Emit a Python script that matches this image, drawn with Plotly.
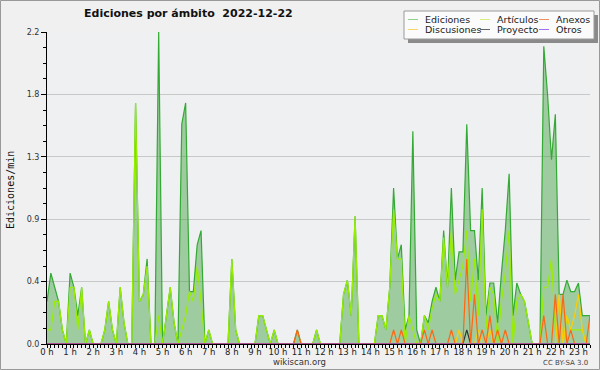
import plotly.graph_objects as go

# 10-minute bins from 00:00 to 23:30 (edits per minute)
ediciones = [
    0.3, 0.5, 0.4, 0.3, 0.1, 0, 0.5, 0.4, 0.2, 0.4, 0, 0.1,
    0, 0, 0, 0.1, 0.3, 0.1, 0, 0.4, 0.15, 0, 0, 1.7,
    0.3, 0.35, 0.6, 0, 0, 2.2, 0, 0.2, 0.4, 0.15, 0, 1.55,
    1.7, 0.37, 0.37, 0.7, 0.8, 0, 0.1, 0, 0, 0, 0, 0,
    0.6, 0.1, 0, 0, 0, 0, 0, 0.2, 0.2, 0.1, 0, 0.1,
    0, 0, 0, 0, 0, 0.1, 0, 0, 0, 0, 0.1, 0,
    0, 0, 0, 0, 0, 0.35, 0.45, 0.2, 0.9, 0, 0, 0,
    0, 0, 0.2, 0.2, 0.1, 0.4, 1.1, 0.6, 0.7, 0.1, 0.2, 1.5,
    0.1, 0, 0.2, 0.15, 0.3, 0.4, 0.3, 0.8, 0.4, 1.1, 0.45, 0.65,
    0.65, 1.55, 0.8, 0.8, 0.45, 1.1, 0.2, 0.43, 0.43, 0.15, 0.5, 0.8,
    1.2, 0.2, 0.43, 0.35, 0.3, 0.15, 0, 0, 0, 2.1, 1.75, 1.3,
    1.62, 0.35, 0.35, 0.45, 0.37, 0.37, 0.43, 0.2, 0.2, 0.2,
]
articulos = [
    0.1, 0.1, 0.3, 0.3, 0.1, 0, 0.4, 0.4, 0.1, 0.4, 0, 0.1,
    0, 0, 0, 0.1, 0.3, 0.1, 0, 0.4, 0.15, 0, 0, 1.7,
    0.3, 0.35, 0.55, 0, 0, 0.2, 0, 0.2, 0.4, 0.15, 0, 0.1,
    0.2, 0.37, 0.3, 0.55, 0.3, 0, 0.1, 0, 0, 0, 0, 0,
    0.6, 0.1, 0, 0, 0, 0, 0, 0.2, 0.2, 0.1, 0, 0.1,
    0, 0, 0, 0, 0, 0, 0, 0, 0, 0, 0.1, 0,
    0, 0, 0, 0, 0, 0.35, 0.45, 0.2, 0.9, 0, 0, 0,
    0, 0, 0.2, 0.2, 0.1, 0.4, 0.95, 0.6, 0.6, 0, 0.2, 0.1,
    0, 0, 0.2, 0.1, 0.25, 0.35, 0.3, 0.75, 0.4, 0.8, 0.35, 0.45,
    0.55, 0.8, 0.3, 0.6, 0.2, 0.95, 0.1, 0.4, 0.35, 0, 0.3, 0.5,
    0.8, 0, 0.3, 0.35, 0.3, 0.15, 0, 0, 0, 0.4, 0.4, 0.6,
    0.1, 0, 0, 0.2, 0.1, 0.1, 0.1, 0.1, 0, 0,
]
anexos = [0] * 142
for i, v in {65: 0.1, 90: 0.1, 92: 0.1, 98: 0.1, 100: 0.1, 105: 0.1,
             109: 0.6, 111: 0.35, 113: 0.1, 115: 0.2, 117: 0.1, 119: 0.1,
             129: 0.2, 132: 0.35, 134: 0.35, 136: 0.1, 141: 0.2}.items():
    anexos[i] = v
discusiones = [0] * 142
for i, v in {107: 0.1, 112: 0.1, 115: 0.1, 133: 0.35, 135: 0.2,
             136: 0.1, 137: 0.2, 138: 0.35, 139: 0.1}.items():
    discusiones[i] = v
proyecto = [0] * 142
proyecto[109] = 0.1
otros = [0] * 142

hour_labels = [f"{h} h" for h in range(24)]
y_ticks = [0, 0.44, 0.88, 1.32, 1.76, 2.2]
y_labels = ["0.0", "0.4", "0.9", "1.3", "1.8", "2.2"]

hours = [i / 6 for i in range(len(ediciones))]

series = [
    ("Ediciones", ediciones, "#33aa33", "#8fd08f"),
    ("Artículos", articulos, "#99ee00", "#d4f07a"),
    ("Discusiones", discusiones, "#ffcc00", "#f5d66a"),
    ("Proyecto", proyecto, "#333333", "#666666"),
    ("Anexos", anexos, "#ff6611", "#f09060"),
    ("Otros", otros, "#9933ff", "#a070f0"),
]

fig = go.Figure()
for name, vals, col, _ in series:
    kw = {}
    if name == "Ediciones":
        kw = dict(fill="tozeroy", fillcolor="rgba(60,160,60,0.45)")
    fig.add_trace(go.Scatter(x=hours, y=vals, mode="lines", name=name,
                             line=dict(color=col, width=1.2), showlegend=False, **kw))

L, R, T, B = 47, 590, 32, 344
W, H = 600, 370
def px(x):
    return (x - L) / (R - L)
def py(y):
    return (B - y) / (B - T)

shapes = []
annotations = []
# outer border
shapes.append(dict(type="rect", xref="paper", yref="paper", x0=px(0.5), x1=px(599.5),
                   y0=py(369.5), y1=py(0.5), line=dict(color="#999999", width=1)))
# legend shadow + box
shapes.append(dict(type="rect", xref="paper", yref="paper", x0=px(408), x1=px(598),
                   y0=py(43), y1=py(15), fillcolor="#8a8a8a", line=dict(width=0)))
shapes.append(dict(type="rect", xref="paper", yref="paper", x0=px(404), x1=px(594),
                   y0=py(39), y1=py(11), fillcolor="#fbfbfb",
                   line=dict(color="#9a9a9a", width=1)))
legend_items = [
    ("Ediciones", 408, 19.5), ("Artículos", 480, 19.5), ("Anexos", 539, 19.5),
    ("Discusiones", 408, 29.5), ("Proyecto", 480, 29.5), ("Otros", 539, 29.5),
]
legcol = {s[0]: s[3] for s in series}
for name, lx, ly in legend_items:
    shapes.append(dict(type="line", xref="paper", yref="paper", x0=px(lx), x1=px(lx + 10),
                       y0=py(ly), y1=py(ly), line=dict(color=legcol[name], width=1)))
    annotations.append(dict(text=name, xref="paper", yref="paper", x=px(lx + 15), y=py(ly),
                            xanchor="left", yanchor="middle", showarrow=False,
                            font=dict(family="DejaVu Sans", size=9.5, color="#222")))

annotations.append(dict(text="<b>Ediciones por ámbito  2022-12-22</b>", xref="paper", yref="paper",
                        x=px(188), y=py(14), xanchor="center", yanchor="middle", showarrow=False,
                        font=dict(family="DejaVu Sans", size=11, color="#111")))
annotations.append(dict(text="Ediciones/min", xref="paper", yref="paper", x=px(10), y=py(190),
                        textangle=-90, xanchor="center", yanchor="middle", showarrow=False,
                        font=dict(family="DejaVu Sans Mono", size=10, color="#111")))
annotations.append(dict(text="wikiscan.org", xref="paper", yref="paper", x=px(299), y=py(362),
                        xanchor="center", yanchor="middle", showarrow=False,
                        font=dict(family="DejaVu Sans", size=8.5, color="#333")))
annotations.append(dict(text="CC BY-SA 3.0", xref="paper", yref="paper", x=px(590), y=py(363),
                        xanchor="right", yanchor="middle", showarrow=False,
                        font=dict(family="DejaVu Sans", size=7, color="#444")))

fig.update_layout(
    width=W, height=H,
    margin=dict(l=L, r=W - R, t=T, b=H - B, pad=0),
    paper_bgcolor="#f0f0f0", plot_bgcolor="#eef0f2",
    shapes=shapes, annotations=annotations,
    font=dict(family="DejaVu Sans", size=8, color="#222"),
)
fig.update_xaxes(range=[0, 23.5], tickvals=list(range(24)), ticktext=hour_labels,
                 showgrid=False, zeroline=False, showline=True, linecolor="black", linewidth=1,
                 ticks="outside", ticklen=3, tickcolor="black", tickwidth=1,
                 ticklabelstandoff=-3,
                 tickfont=dict(size=8.5, family="DejaVu Sans", color="#222"),
                 minor=dict(tickmode="linear", tick0=0, dtick=1 / 6, ticks="outside",
                            ticklen=3, tickcolor="black", showgrid=False))
fig.update_yaxes(range=[0, 2.2], tickvals=y_ticks, ticktext=y_labels,
                 showgrid=True, gridcolor="#c8c8c8", gridwidth=1, zeroline=False,
                 showline=True, linecolor="black", linewidth=1,
                 ticks="outside", ticklen=5, tickcolor="black",
                 tickfont=dict(size=8, family="DejaVu Sans", color="#333"),
                 minor=dict(tickmode="linear", tick0=0, dtick=0.11, ticks="outside",
                            ticklen=3, tickcolor="black", showgrid=False))
fig.write_html("out.html", config={"displayModeBar": False},
               post_script="document.body.style.margin='0';document.body.style.padding='0';"
                           "document.body.style.overflow='hidden';")
